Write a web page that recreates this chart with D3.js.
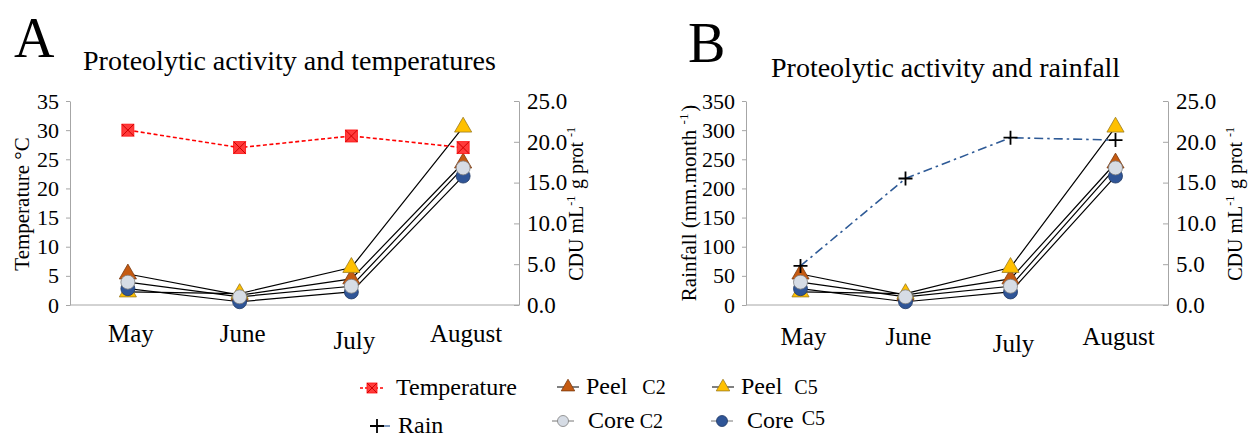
<!DOCTYPE html>
<html>
<head>
<meta charset="utf-8">
<script src="https://cdn.jsdelivr.net/npm/d3@7"></script>
<style>
  body { margin: 0; background: #fff; }
  #container svg, #container svg text { font-family: "Liberation Serif", "DejaVu Serif", serif !important; }
</style>
</head>
<body>
<div id="container"></div>
<script>
// values
const months = ["May", "June", "July", "August"];
const temperature = [30, 27, 29, 27];          // °C, left axis of A
const rainfall = [67, 217, 287, 283];           // mm/month, left axis of B
const peelC2 = [3.8, 1.2, 3.2, 17.4];           // CDU, right axis
const peelC5 = [1.6, 1.4, 4.6, 21.8];
const coreC2 = [2.8, 1.0, 2.3, 16.8];
const coreC5 = [2.0, 0.4, 1.6, 15.8];
const tempTicks = [0, 5, 10, 15, 20, 25, 30, 35];
const rainTicks = [0, 50, 100, 150, 200, 250, 300, 350];
const cduTicks = [0, 5, 10, 15, 20, 25];

const FONT = '"Liberation Serif", "DejaVu Serif", serif';

// drawing order matters for the overlapping markers
const series = [
    { name: "Peel", sub: "C2", values: peelC2, shape: "triangle", fill: "#c55a11", stroke: "#7a3a10" },
    { name: "Peel", sub: "C5", values: peelC5, shape: "triangle", fill: "#ffc000", stroke: "#9a7a20" },
    { name: "Core", sub: "C5", values: coreC5, shape: "circle", fill: "#2f5597", stroke: "#1f3864" },
    { name: "Core", sub: "C2", values: coreC2, shape: "circle", fill: "#d6dce5", stroke: "#7f7f7f" }
];

const svg = d3.select("#container").append("svg")
    .attr("width", 1255).attr("height", 437)
    .attr("font-family", FONT).style("font-family", FONT);

const yTop = 101, yBot = 305;

function marker(sel, s, r) {
    if (s.shape === "triangle") {
        sel.append("path").attr("d", d3.symbol().type(d3.symbolTriangle).size(r * r * 2.6)())
            .attr("fill", s.fill).attr("stroke", s.stroke).attr("stroke-width", 0.8);
    } else {
        sel.append("circle").attr("r", r)
            .attr("fill", s.fill).attr("stroke", s.stroke).attr("stroke-width", 0.8);
    }
}

function tempMarker(sel, half) {
    sel.append("rect").attr("x", -half).attr("y", -half).attr("width", 2 * half).attr("height", 2 * half)
        .attr("fill", "#ff3b3b").attr("stroke", "#ff1010").attr("stroke-width", 0.8);
    sel.append("path").attr("d", `M${-half},${-half}L${half},${half}M${half},${-half}L${-half},${half}`)
        .attr("stroke", "#d00000").attr("stroke-width", 1);
}

function rainMarker(sel, arm) {
    sel.append("path").attr("d", `M${-arm},0H${arm}M0,${-arm}V${arm}`)
        .attr("stroke", "#000").attr("stroke-width", 1.8).attr("fill", "none");
}

function txt(sel, size) {
    return sel.append("text").attr("font-family", FONT).style("font-family", FONT)
        .style("font-size", size + "px").attr("fill", "#000");
}

function styleAxis(a, size) {
    a.attr("font-family", FONT);
    a.selectAll("path.domain").attr("stroke", "#a6a6a6");
    a.selectAll(".tick line").attr("stroke", "#a6a6a6");
    a.selectAll("text").style("font-family", FONT).style("font-size", size + "px").attr("fill", "#000");
}

function supText(t, parts, supSize) {
    parts.forEach(p => {
        if (p.sup) {
            t.append("tspan").attr("dy", -8).style("font-size", supSize + "px").text(p.sup);
            t.append("tspan").attr("dy", 8).text("\u200a");
        } else {
            t.append("tspan").text(p.txt);
        }
    });
}

function drawPanel(p) {
    const g = svg.append("g");
    const x = d3.scaleBand().domain(months).range([p.left + 2, p.right]);
    const cx = m => x(m) + x.bandwidth() / 2;
    const yL = d3.scaleLinear().domain([0, d3.max(p.leftTicks)]).range([yBot, yTop]);
    const yR = d3.scaleLinear().domain([0, d3.max(cduTicks)]).range([yBot, yTop]);

    // panel letter + title
    txt(g, 56).attr("x", p.letterX).attr("y", p.letterY).text(p.letter);
    txt(g, 28).attr("x", p.titleX).attr("y", p.titleY).text(p.title);

    // left axis
    const la = g.append("g").attr("transform", `translate(${p.left},0)`)
        .call(d3.axisLeft(yL).tickValues(p.leftTicks).tickSizeOuter(0).tickSizeInner(4).tickPadding(7));
    styleAxis(la, 22);

    // right axis, ticks pointing into the plot
    const ra = g.append("g").attr("transform", `translate(${p.right},0)`)
        .call(d3.axisRight(yR).tickValues(cduTicks).tickFormat(d3.format(".1f"))
            .tickSizeOuter(0).tickSizeInner(-5).tickPadding(8));
    styleAxis(ra, 23);

    // baseline + months
    g.append("line").attr("x1", p.left).attr("x2", p.right).attr("y1", yBot).attr("y2", yBot)
        .attr("stroke", "#a6a6a6");
    const xa = g.append("g").attr("transform", `translate(${p.monthShift},${yBot})`)
        .call(d3.axisBottom(x).tickSize(0).tickPadding(p.monthPad));
    xa.select("path.domain").remove();
    styleAxis(xa, 25);
    xa.selectAll("text").attr("dy", d => d === "July" ? "0.98em" : "0.72em");

    // axis titles
    const lt = txt(g, 21)
        .attr("transform", `translate(${p.leftTitleX},${p.leftTitleY}) rotate(-90)`)
        .attr("text-anchor", "middle");
    supText(lt, p.leftTitle, 13);
    const rt = txt(g, 20)
        .attr("transform", `translate(${p.rightTitleX},203) rotate(-90)`)
        .attr("text-anchor", "middle");
    supText(rt, [{ txt: "CDU mL" }, { sup: "-1" }, { txt: " g prot " }, { sup: "-1" }], 12);

    // activity lines, then markers
    const line = d3.line().x((d, i) => cx(months[i])).y(d => yR(d));
    series.forEach(s => {
        g.append("path").datum(s.values).attr("d", line)
            .attr("fill", "none").attr("stroke", "#000").attr("stroke-width", 1.2);
    });
    series.forEach(s => {
        s.values.forEach((v, i) => {
            const m = g.append("g").attr("transform", `translate(${cx(months[i])},${yR(v)})`);
            marker(m, s, 7);
        });
    });

    // temperature / rain
    const envLine = d3.line().x((d, i) => cx(months[i])).y(d => yL(d));
    g.append("path").datum(p.env).attr("d", envLine).attr("fill", "none")
        .attr("stroke", p.envColor).attr("stroke-width", 1.6).attr("stroke-dasharray", p.envDash);
    p.env.forEach((v, i) => {
        const m = g.append("g").attr("transform", `translate(${cx(months[i])},${yL(v)})`);
        if (p.envType === "temp") tempMarker(m, 6); else rainMarker(m, 7);
    });
}

drawPanel({
    letter: "A", letterX: 14, letterY: 57,
    title: "Proteolytic activity and temperatures", titleX: 83, titleY: 70,
    left: 70, right: 519, leftTicks: tempTicks, monthShift: 3, monthPad: 19,
    leftTitle: [{ txt: "Temperature °C" }], leftTitleX: 29, leftTitleY: 204,
    rightTitleX: 583,
    env: temperature, envType: "temp", envColor: "#ff0000", envDash: "4,2.5"
});

drawPanel({
    letter: "B", letterX: 688, letterY: 62,
    title: "Proteolytic activity and rainfall", titleX: 771, titleY: 77,
    left: 746, right: 1168, leftTicks: rainTicks, monthShift: 3, monthPad: 22,
    leftTitle: [{ txt: "Rainfall (mm.month " }, { sup: "-1" }, { txt: ")" }], leftTitleX: 696, leftTitleY: 203,
    rightTitleX: 1242,
    env: rainfall, envType: "rain", envColor: "#2e5a96", envDash: "9,4,2.5,4"
});

// legend
const lg = svg.append("g");
const legendItems = [
    { kind: "temp", label: "Temperature", x: 372, y: 388 },
    { kind: "rain", label: "Rain", x: 377, y: 426 },
    { kind: series[0], x: 568, y: 387, gap: 15 },
    { kind: series[1], x: 723, y: 387, gap: 12 },
    { kind: series[3], x: 563, y: 421, gap: 5 },
    { kind: series[2], x: 722, y: 421, gap: 8, rise: 3 }
];
legendItems.forEach(it => {
    const m = lg.append("g").attr("transform", `translate(${it.x},${it.y})`);
    if (it.kind === "temp") {
        m.append("line").attr("x1", -12).attr("x2", 12).attr("stroke", "#ff0000")
            .attr("stroke-width", 1.4).attr("stroke-dasharray", "3,2");
        tempMarker(m, 5);
        txt(lg, 24).attr("x", it.x + 24).attr("y", it.y + 7).text(it.label);
    } else if (it.kind === "rain") {
        m.append("line").attr("x1", 7).attr("x2", 13).attr("stroke", "#2e5a96").attr("stroke-width", 1.2);
        rainMarker(m, 7);
        txt(lg, 24).attr("x", it.x + 21).attr("y", it.y + 7).text(it.label);
    } else {
        const s = it.kind;
        m.append("line").attr("x1", -11).attr("x2", 11).attr("stroke", s.shape === "circle" ? "#777" : "#000")
            .attr("stroke-width", 1);
        marker(m, s, 5.5);
        const t = txt(lg, 24).attr("x", it.x + (s.shape === "circle" ? 25 : 18)).attr("y", it.y + 7);
        t.append("tspan").text(s.name);
        t.append("tspan").attr("dx", it.gap).attr("dy", -(it.rise || 0)).style("font-size", "20px").text(s.sub);
    }
});
</script>
</body>
</html>
